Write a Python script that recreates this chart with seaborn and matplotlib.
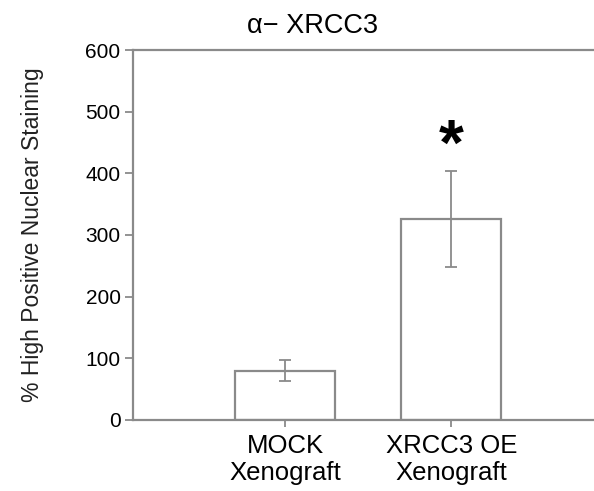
import seaborn as sns
import matplotlib.pyplot as plt
import numpy as np

# data
groups = ["MOCK\nXenograft", "XRCC3 OE\nXenograft"]
means = [80, 326]
errs = [17, 78]
star_y = 441
y_ticks = [0, 100, 200, 300, 400, 500, 600]

sns.set_theme(style="white")
plt.rcParams['font.family'] = ['Liberation Sans', 'DejaVu Sans']
plt.rcParams['text.color'] = 'black'
plt.rcParams['axes.labelcolor'] = 'black'

grey = "#8a8a8a"
fig = plt.figure(figsize=(5.94, 4.91), dpi=100)
ax = fig.add_axes([0.224, 0.145, 0.776, 0.753])

sns.barplot(x=groups, y=means, color="white", edgecolor=grey, linewidth=1.6,
            width=0.6, errorbar=None, ax=ax)
ax.errorbar(x=np.arange(len(groups)), y=means, yerr=errs, fmt="none",
            ecolor=grey, elinewidth=1.3, capsize=4, capthick=1.3)
ax.text(1, star_y, "*", ha="center", va="center", fontsize=46,
        fontweight="bold", color="black")

ax.set_ylim(0, 600)
ax.set_xlim(-0.916, 1.86)
ax.set_yticks(y_ticks)
ax.tick_params(axis="y", length=6, width=1.3, color=grey, labelsize=15, pad=3,
               left=True, labelcolor="black")
ax.tick_params(axis="x", length=5, width=1.3, color=grey, labelsize=18.5, pad=5,
               bottom=True, labelcolor="black")
for s in ["left", "bottom", "top"]:
    ax.spines[s].set_color(grey)
    ax.spines[s].set_linewidth(1.6)
ax.spines["right"].set_visible(False)

ax.set_ylabel("% High Positive Nuclear Staining", fontsize=16.5, labelpad=30,
              color="#222222")
fig.text(0.527, 0.948, "α− XRCC3", ha="center", va="center", fontsize=19.5)

fig.savefig("out.png", dpi=100)
